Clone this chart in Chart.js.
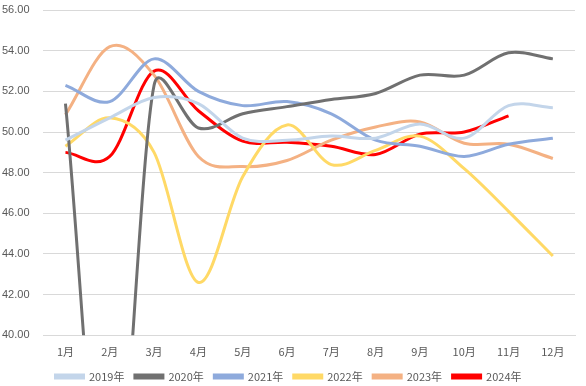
<!DOCTYPE html>
<html><head><meta charset="utf-8">
<script src="https://cdn.jsdelivr.net/npm/chart.js@4/dist/chart.umd.min.js"></script>
<style>html,body{margin:0;padding:0;background:#fff}#wrap{width:586px;height:386px}</style>
</head><body><div id="wrap"><canvas id="c" width="586" height="386"></canvas></div>
<script>
const categories = ['1月','2月','3月','4月','5月','6月','7月','8月','9月','10月','11月','12月'];
const seriesNames = ['2019年','2020年','2021年','2022年','2023年','2024年'];
const s2019 = [49.6, 50.7, 51.7, 51.4, 49.7, 49.6, 49.8, 49.7, 50.4, 49.7, 51.3, 51.2];
const s2020 = [51.4, 29.0, 52.3, 50.2, 50.9, 51.25, 51.6, 51.9, 52.8, 52.8, 53.9, 53.6];
const s2021 = [52.3, 51.5, 53.6, 52.0, 51.3, 51.5, 50.9, 49.6, 49.3, 48.8, 49.4, 49.7];
const s2022 = [49.3, 50.7, 49.0, 42.6, 47.8, 50.35, 48.4, 49.1, 49.8, 48.2, 46.1, 43.9];
const s2023 = [50.85, 54.2, 52.8, 48.8, 48.3, 48.6, 49.6, 50.25, 50.5, 49.45, 49.4, 48.7];
const s2024 = [49.0, 48.8, 53.0, 51.05, 49.55, 49.5, 49.3, 48.9, 49.9, 50.0, 50.8];
const yTicks = {min: 40, max: 56, step: 2};
const colors = ['#c3d5ea','#707070','#8eaadc','#ffd966','#f4b183','#ff0000'];
const allSeries = [s2019, s2020, s2021, s2022, s2023, s2024];

const legendShrink = {
  id: 'legendShrink',
  beforeUpdate(chart) {
    const lg = chart.legend;
    if (lg && !lg._patched) {
      const orig = lg.fit;
      lg.fit = function () { orig.call(this); this.height -= 7; };
      lg._patched = true;
    }
  }
};

// Office-style smoothing: tangent = (next - prev) / 6, limited by each side's chord
const officeSmooth = {
  id: 'officeSmooth',
  beforeDatasetsDraw(chart) {
    const K = 0.5;
    chart.data.datasets.forEach((ds, i) => {
      const meta = chart.getDatasetMeta(i);
      const line = meta.dataset;
      if (line && line.updateControlPoints) line.updateControlPoints(chart.chartArea, meta.indexAxis);
      const pts = meta.data;
      const n = pts.length;
      for (let j = 0; j < n; j++) {
        const p = pts[j];
        let tx, ty;
        if (j === 0) { tx = (pts[1].x - p.x) / 3; ty = (pts[1].y - p.y) / 3; }
        else if (j === n - 1) { tx = (p.x - pts[j - 1].x) / 3; ty = (p.y - pts[j - 1].y) / 3; }
        else { tx = (pts[j + 1].x - pts[j - 1].x) / 6; ty = (pts[j + 1].y - pts[j - 1].y) / 6; }
        const prev = pts[j - 1] || p, next = pts[j + 1] || p;
        const tl = Math.hypot(tx, ty);
        const dIn = Math.hypot(p.x - prev.x, p.y - prev.y);
        const dOut = Math.hypot(next.x - p.x, next.y - p.y);
        const sIn = tl > 0 ? Math.min(1, K * dIn / tl) : 0;
        const sOut = tl > 0 ? Math.min(1, K * dOut / tl) : 0;
        p.cp1x = p.x - tx * sIn; p.cp1y = p.y - ty * sIn;
        p.cp2x = p.x + tx * sOut; p.cp2y = p.y + ty * sOut;
      }
    });
  }
};

new Chart(document.getElementById('c'), {
  type: 'line',
  data: {
    labels: categories,
    datasets: allSeries.map((d, i) => ({
      label: seriesNames[i],
      data: d,
      borderColor: colors[i],
      backgroundColor: colors[i],
      borderWidth: 3,
      pointRadius: 0,
      tension: 0.4,
      capBezierPoints: false,
      fill: false,
      clip: 0
    }))
  },
  plugins: [legendShrink, officeSmooth],
  options: {
    responsive: false,
    animation: false,
    layout: {padding: {left: 2, right: 11, top: 0, bottom: 1}},
    plugins: {
      legend: {
        position: 'bottom',
        labels: {
          boxWidth: 28, boxHeight: 3, padding: 10.5,
          color: '#595959',
          font: {family: "'Noto Sans CJK SC', 'Liberation Sans', sans-serif", size: 11}
        }
      },
      tooltip: {enabled: false}
    },
    scales: {
      x: {
        offset: true,
        grid: {display: false},
        border: {color: '#d9d9d9'},
        ticks: {color: '#595959', padding: 2, font: {family: "'Noto Sans CJK SC', 'Liberation Sans', sans-serif", size: 11}}
      },
      y: {
        min: yTicks.min, max: yTicks.max,
        grid: {color: '#d9d9d9', drawTicks: false},
        border: {display: false},
        afterFit(scale) { scale.width = 41.3; },
        ticks: {
          stepSize: yTicks.step, padding: 3.5, crossAlign: 'far',
          color: '#595959',
          font: {family: "'Liberation Sans', sans-serif", size: 11},
          callback: v => Number(v).toFixed(2)
        }
      }
    }
  }
});
</script></body></html>
